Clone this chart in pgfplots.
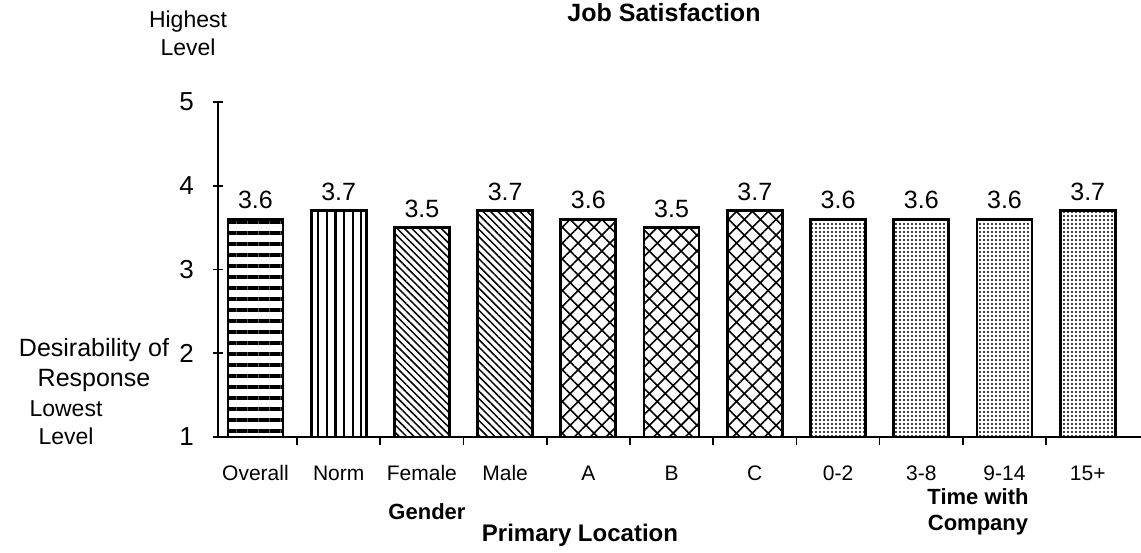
\documentclass[border=0pt]{standalone}
\usepackage{fontspec}
\setmainfont{Liberation Sans}
\usepackage{pgfplots}
\pgfplotsset{compat=1.18}
\usetikzlibrary{patterns.meta}
\begin{document}
\begin{tikzpicture}[x=1pt,y=1pt]
\useasboundingbox (-109,-57.5) rectangle (461.5,218.5);
\begin{axis}[
  at={(0,0)}, anchor=south west,
  width=461.5pt, height=167.5pt, scale only axis,
  xmin=-0.45, xmax=10.64, ymin=1, ymax=5,
  axis x line*=bottom, axis y line*=left,
  axis line style={line width=1.4pt,-},
  /pgf/number format/assume math mode=true,
  ytick={1,2,3,4,5},
  xtick={0,...,10},
  xticklabels={Overall,Norm,Female,Male,A,B,C,0-2,3-8,9-14,15+},
  minor x tick num=1,
  major x tick style={draw=none},
  minor x tick style={line width=0.8pt,black},
  minor tick length=4pt,
  major y tick style={line width=0.8pt,black},
  major tick length=5pt,
  tick align=center,
  yticklabel style={font=\fontsize{13}{15}\selectfont, xshift=-6pt},
  xticklabel style={font=\fontsize{10.5}{12}\selectfont, yshift=-5pt, text height=1.6ex, text depth=0.3ex},
  ybar, bar width=27.5pt,
  nodes near coords,
  nodes near coords style={font=\fontsize{12.5}{14}\selectfont, yshift=1pt,
    /pgf/number format/fixed, /pgf/number format/fixed zerofill, /pgf/number format/precision=1,
    /pgf/number format/assume math mode=true},
]
\addplot[bar shift=0pt, draw=black, line width=1.4pt,
  pattern={Lines[angle=0,distance=5.5pt,line width=1.7pt]}, pattern color=black]
  coordinates {(0,3.6)};
\addplot[bar shift=0pt, draw=black, line width=1.4pt,
  pattern={Lines[angle=90,distance=4.3pt,line width=1.1pt]}, pattern color=black]
  coordinates {(1,3.7)};
\addplot[bar shift=0pt, draw=black, line width=1.4pt,
  pattern={Lines[angle=-45,distance=2.6pt,line width=0.75pt]}, pattern color=black]
  coordinates {(2,3.5) (3,3.7)};
\addplot[bar shift=0pt, draw=black, line width=1.4pt,
  pattern={Hatch[angle=45,distance=5.6pt,line width=0.8pt]}, pattern color=black]
  coordinates {(4,3.6) (5,3.5) (6,3.7)};
\addplot[bar shift=0pt, draw=black, line width=1.4pt,
  pattern={Dots[distance=2pt,radius=0.55pt]}, pattern color=black]
  coordinates {(7,3.6) (8,3.6) (9,3.6) (10,3.7)};
\end{axis}
\node[font=\bfseries\fontsize{12.5}{14}\selectfont] at (223,212) {Job Satisfaction};
\node[align=center, font=\fontsize{11.5}{14}\selectfont] at (-15,202) {Highest\\Level};
\node[align=center, font=\fontsize{12.5}{15}\selectfont] at (-62,36) {Desirability of\\Response};
\node[align=center, font=\fontsize{11.5}{14}\selectfont] at (-76,7) {Lowest\\Level};
\node[font=\bfseries\fontsize{11}{13}\selectfont] at (104.5,-37.5) {Gender};
\node[font=\bfseries\fontsize{12}{14}\selectfont] at (181,-49) {Primary Location};
\node[align=center, font=\bfseries\fontsize{11}{13}\selectfont] at (380,-37.5) {Time with\\Company};
\end{tikzpicture}
\end{document}
